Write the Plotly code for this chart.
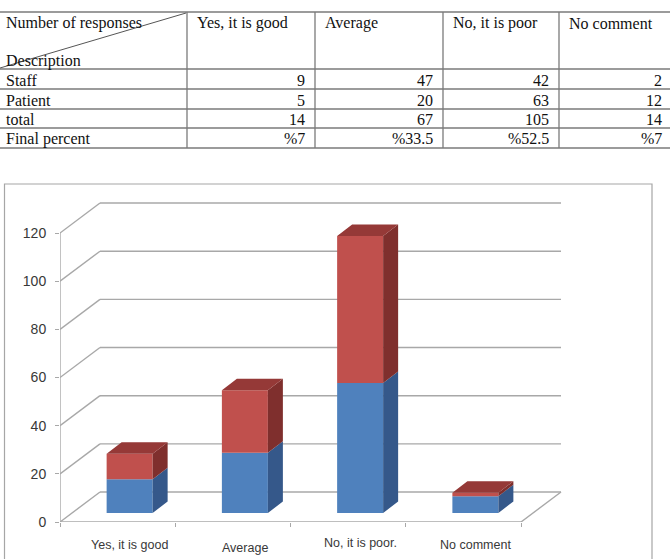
import plotly.graph_objects as go

# ---------------- data ----------------
categories = ["Yes, it is good", "Average", "No, it is poor.", "No comment"]
blue_vals = [14, 25, 54, 7]          # lower (blue) segment as drawn in the chart
red_vals = [10.6, 26, 61, 1.4]       # upper (red) segment as drawn in the chart
y_ticks = [0, 20, 40, 60, 80, 100, 120]

table_header = ["Yes, it is good", "Average", "No, it is poor", "No comment"]
header_top_left = "Number of responses"
header_bottom_left = "Description"
row_labels = ["Staff", "Patient", "total", "Final percent"]
staff = [9, 47, 42, 2]
patient = [5, 20, 63, 12]
total = [14, 67, 105, 14]
final_percent = ["%7", "%33.5", "%52.5", "%7"]

# ---------------- geometry / style ----------------
W, H = 670, 559


def PX(x):
    return x / W


def PY(y):
    return 1 - y / H


XPX = 115.25   # pixels per category
YPX = 2.408    # pixels per value unit
X0, Y0 = 60, 522
XMAX, YMAX = 4.45, 135

WX, WY = 40 / XPX, 30 / YPX      # back-wall offset
FX, FY = 12 / XPX, 9 / YPX       # bar front-face offset
DX, DY = 15 / XPX, 11.5 / YPX    # bar depth
BW = 46 / XPX                    # bar width
LABEL_PY = [545, 548, 543, 545]  # pixel rows of the category labels

BLUE, BLUE_SIDE = "#4F81BD", "#35588A"
RED, RED_SIDE, RED_TOP = "#C0504D", "#7F2F2D", "#953937"
GRID = "#A8A8A8"
TXT = "#383838"

fig = go.Figure()

n = len(categories)
centers = [i + 0.5 + FX for i in range(n)]
red_base = [FY + b for b in blue_vals]

# front faces
fig.add_trace(go.Bar(x=centers, y=blue_vals, base=[FY] * n, width=BW,
                     marker=dict(color=BLUE, line=dict(width=0)), hoverinfo="skip"))
fig.add_trace(go.Bar(x=centers, y=red_vals, base=red_base, width=BW,
                     marker=dict(color=RED, line=dict(width=0)), hoverinfo="skip"))

# side faces
def side_poly(segs):
    xs, ys = [], []
    for c, b, t in segs:
        xr = c + BW / 2
        xs += [xr, xr + DX, xr + DX, xr, xr, None]
        ys += [b, b + DY, t + DY, t, b, None]
    return xs, ys

bx, by = side_poly([(c, FY, FY + b) for c, b in zip(centers, blue_vals)])
rx, ry = side_poly([(c, FY + b, FY + b + r) for c, b, r in zip(centers, blue_vals, red_vals)])
fig.add_trace(go.Scatter(x=bx, y=by, fill="toself", fillcolor=BLUE_SIDE, mode="lines",
                         line=dict(width=0, color=BLUE_SIDE), hoverinfo="skip"))
fig.add_trace(go.Scatter(x=rx, y=ry, fill="toself", fillcolor=RED_SIDE, mode="lines",
                         line=dict(width=0, color=RED_SIDE), hoverinfo="skip"))

# top faces
tx, ty = [], []
for c, b, r in zip(centers, blue_vals, red_vals):
    t = FY + b + r
    xl, xr = c - BW / 2, c + BW / 2
    tx += [xl, xl + DX, xr + DX, xr, xl, None]
    ty += [t, t + DY, t + DY, t, t, None]
fig.add_trace(go.Scatter(x=tx, y=ty, fill="toself", fillcolor=RED_TOP, mode="lines",
                         line=dict(width=0, color=RED_TOP), hoverinfo="skip"))

shapes = []
# back wall gridlines and side-wall diagonals
for v in y_ticks:
    shapes.append(dict(type="line", xref="x", yref="y", layer="below",
                       x0=WX, y0=v + WY, x1=n + WX, y1=v + WY,
                       line=dict(color=GRID, width=1.4)))
    shapes.append(dict(type="line", xref="x", yref="y", layer="below",
                       x0=0, y0=v, x1=WX, y1=v + WY,
                       line=dict(color=GRID, width=1.4)))
# floor right edge
shapes.append(dict(type="line", xref="x", yref="y", layer="below",
                   x0=n, y0=0, x1=n + WX, y1=WY, line=dict(color=GRID, width=1.4)))
# axis lines
shapes.append(dict(type="line", xref="x", yref="y", layer="below",
                   x0=0, y0=0, x1=0, y1=y_ticks[-1], line=dict(color=GRID, width=1.4)))
shapes.append(dict(type="line", xref="x", yref="y", layer="below",
                   x0=0, y0=0, x1=n, y1=0, line=dict(color=GRID, width=1.4)))

# chart frame
shapes.append(dict(type="rect", xref="paper", yref="paper", layer="below",
                   x0=PX(4.5), y0=PY(570), x1=PX(652), y1=PY(184),
                   line=dict(color="#A6A6A6", width=1.2)))

# ---------------- table ----------------
col_edges = [0, 187, 315, 443, 559, 672]
row_edges = [12, 69, 89, 109, 128, 148]
TLINE = "#7a7a7a"
for yy in row_edges:
    shapes.append(dict(type="line", xref="paper", yref="paper",
                       x0=0, y0=PY(yy), x1=1, y1=PY(yy),
                       line=dict(color=TLINE, width=1.3)))
for xx in col_edges[1:-1]:
    shapes.append(dict(type="line", xref="paper", yref="paper",
                       x0=PX(xx), y0=PY(row_edges[0]), x1=PX(xx), y1=PY(row_edges[-1]),
                       line=dict(color=TLINE, width=1.3)))
shapes.append(dict(type="line", xref="paper", yref="paper",
                   x0=PX(0), y0=PY(68), x1=PX(186), y1=PY(13),
                   line=dict(color="#555555", width=1)))

annotations = []
TFONT = dict(family="Liberation Serif", size=16, color="#111111")


def tann(text, x, y, anchor="left"):
    annotations.append(dict(text=text, x=PX(x), y=PY(y), xref="paper", yref="paper",
                            xanchor=anchor, yanchor="middle", showarrow=False,
                            font=TFONT, borderpad=0))


tann(header_top_left, 5, 23)
tann(header_bottom_left, 5, 61)
for j, h in enumerate(table_header):
    tann(h, col_edges[j + 1] + 8.5, 23)

rows = [staff, patient, total, final_percent]
for r, (lab, vals) in enumerate(zip(row_labels, rows)):
    yc = (row_edges[r + 1] + row_edges[r + 2]) / 2 + 1
    tann(lab, 5, yc)
    for j, v in enumerate(vals):
        tann(str(v), col_edges[j + 2] - 9, yc, anchor="right")

# category labels (positioned under each bar)
for c, lab, ly in zip(centers, categories, LABEL_PY):
    annotations.append(dict(text=lab, x=c, y=PY(ly), xref="x", yref="paper",
                            xanchor="center", yanchor="middle", showarrow=False,
                            font=dict(family="Liberation Sans", size=12.5, color=TXT)))

fig.update_layout(
    width=W, height=H, autosize=False,
    margin=dict(l=0, r=0, t=0, b=0, pad=0),
    paper_bgcolor="white", plot_bgcolor="white",
    showlegend=False, barmode="overlay",
    shapes=shapes, annotations=annotations,
    xaxis=dict(domain=[PX(X0), PX(X0 + XMAX * XPX)], range=[0, XMAX],
               showgrid=False, zeroline=False, showline=False, automargin=False,
               tickvals=list(range(n + 1)), ticks="outside", ticklen=4,
               tickcolor=GRID, tickwidth=1.3, showticklabels=False, fixedrange=True),
    yaxis=dict(domain=[PY(Y0), PY(Y0 - YMAX * YPX)], range=[0, YMAX],
               showgrid=False, zeroline=False, showline=False, automargin=False,
               tickvals=y_ticks, ticks="outside", ticklen=4,
               tickcolor=GRID, tickwidth=1.3, ticklabelstandoff=6,
               tickfont=dict(family="Liberation Sans", size=14, color=TXT),
               fixedrange=True),
)

fig.write_html("out.html")
